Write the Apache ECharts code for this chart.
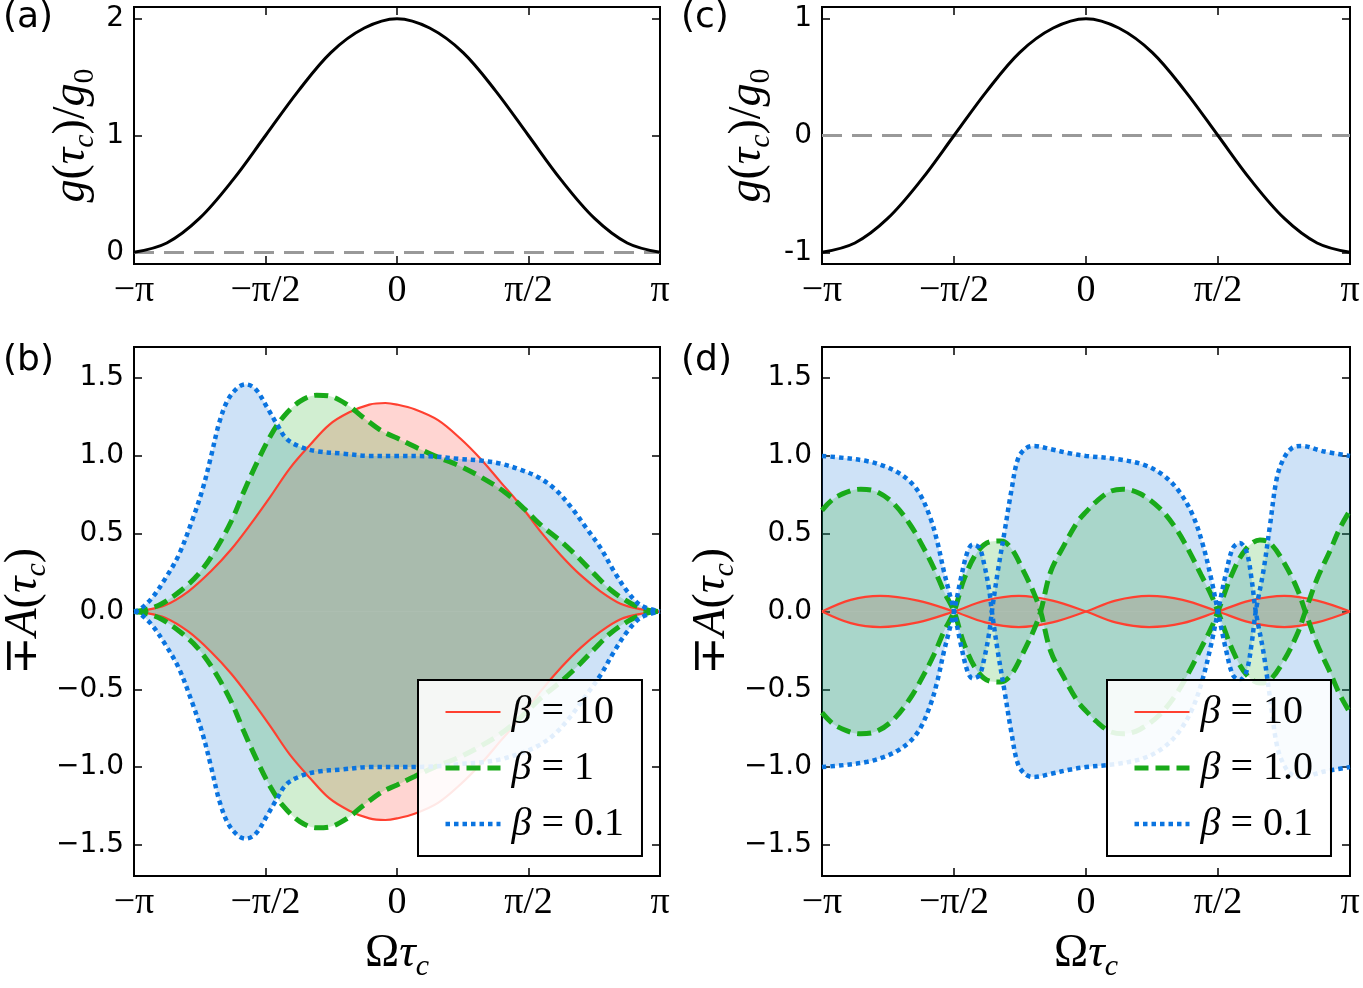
<!DOCTYPE html>
<html>
<head>
<meta charset="utf-8">
<script src="https://cdn.jsdelivr.net/npm/echarts@6/dist/echarts.min.js"></script>
<style>
  html, body { margin: 0; padding: 0; background: #fff; }
  #main { width: 1363px; height: 988px; }
</style>
</head>
<body>
<div id="main"></div>
<script>
// tick positions / labels
var xTicks = [-Math.PI, -Math.PI / 2, 0, Math.PI / 2, Math.PI];
var xTickLabels = ['−π', '−π/2', '0', 'π/2', 'π'];
var yTicksA = [0, 1, 2];
var yTicksC = [-1, 0, 1];
var yTicksBD = [-1.5, -1, -0.5, 0, 0.5, 1, 1.5];

// (a), (c)  g(tau_c)/g0
var gX = [-3.1416, -2.75, -2.36, -1.96, -1.57, -1.18, -0.79, -0.39, 0, 0.39, 0.79, 1.18, 1.57, 1.96, 2.36, 2.75, 3.1416];
var gA = [0, 0.08, 0.29, 0.62, 1.0, 1.38, 1.71, 1.92, 2.0, 1.92, 1.71, 1.38, 1.0, 0.62, 0.29, 0.08, 0];
var gC = [-1, -0.92, -0.71, -0.38, 0, 0.38, 0.71, 0.92, 1, 0.92, 0.71, 0.38, 0, -0.38, -0.71, -0.92, -1];

// (b)  A(tau_c), plotted as +A and -A
var bRedX = [-3.1416, -3.04, -2.77, -2.49, -2.22, -1.98, -1.75, -1.51, -1.28, -1.04, -0.81, -0.57, -0.33, -0.14, 0, 0.21, 0.49, 0.76, 1.0, 1.24, 1.48, 1.72, 1.96, 2.19, 2.43, 2.67, 2.91, 3.1416];
var bRedA = [0, 0.005, 0.04, 0.13, 0.26, 0.40, 0.56, 0.74, 0.92, 1.07, 1.20, 1.28, 1.33, 1.34, 1.33, 1.30, 1.23, 1.11, 0.98, 0.83, 0.68, 0.51, 0.36, 0.235, 0.13, 0.05, 0.015, 0];
var bGreenX = [-3.1416, -3.0, -2.81, -2.57, -2.38, -2.18, -1.98, -1.83, -1.67, -1.51, -1.36, -1.16, -0.96, -0.81, -0.61, -0.41, -0.18, 0, 0.21, 0.45, 0.73, 1.0, 1.28, 1.52, 1.72, 1.96, 2.16, 2.35, 2.55, 2.79, 2.99, 3.1416];
var bGreenA = [0, 0.012, 0.05, 0.14, 0.235, 0.385, 0.58, 0.77, 0.96, 1.13, 1.25, 1.35, 1.39, 1.385, 1.335, 1.25, 1.16, 1.115, 1.06, 1.0, 0.94, 0.865, 0.77, 0.66, 0.555, 0.45, 0.35, 0.245, 0.14, 0.053, 0.01, 0];
var bBlueX = [-3.1416, -3.08, -2.93, -2.77, -2.61, -2.45, -2.32, -2.22, -2.12, -2.02, -1.90, -1.81, -1.69, -1.55, -1.43, -1.32, -1.16, -0.96, -0.65, -0.33, 0, 0.37, 0.76, 1.0, 1.24, 1.48, 1.68, 1.88, 2.08, 2.27, 2.43, 2.59, 2.75, 2.91, 3.1416];
var bBlueA = [0, 0.01, 0.085, 0.21, 0.36, 0.58, 0.79, 1.0, 1.22, 1.36, 1.44, 1.46, 1.43, 1.31, 1.20, 1.11, 1.06, 1.03, 1.015, 1.0, 1.0, 0.998, 0.98, 0.97, 0.95, 0.91, 0.865, 0.79, 0.67, 0.53, 0.41, 0.26, 0.13, 0.04, 0];

// (d)  signed A(tau_c)
var dRedX = [-3.1416, -2.8, -2.45, -2.0, -1.57, -1.2, -0.8, -0.4, 0, 0.35, 0.75, 1.15, 1.57, 1.95, 2.36, 2.75, 3.1416];
var dRedA = [0, 0.075, 0.1, 0.07, 0, -0.07, -0.1, -0.07, 0, 0.07, 0.1, 0.075, 0, -0.07, -0.1, -0.07, 0];
var dGreenX = [-3.1416, -3.0, -2.80, -2.68, -2.49, -2.29, -2.09, -1.93, -1.81, -1.69, -1.57, -1.45, -1.29, -1.13, -1.01, -0.89, -0.74, -0.62, -0.54, -0.42, -0.26, -0.10, 0, 0.12, 0.28, 0.44, 0.64, 0.88, 1.07, 1.23, 1.37, 1.49, 1.57, 1.75, 1.91, 2.07, 2.19, 2.35, 2.51, 2.61, 2.75, 2.90, 3.02, 3.1416];
var dGreenA = [0.65, 0.726, 0.776, 0.786, 0.77, 0.694, 0.556, 0.406, 0.278, 0.128, 0, -0.21, -0.385, -0.45, -0.453, -0.406, -0.256, -0.118, 0, 0.256, 0.427, 0.577, 0.64, 0.705, 0.77, 0.786, 0.758, 0.662, 0.534, 0.385, 0.235, 0.107, 0, -0.256, -0.406, -0.46, -0.44, -0.32, -0.15, 0, 0.21, 0.385, 0.534, 0.65];
var dBlueX = [-3.1416, -2.88, -2.60, -2.41, -2.25, -2.09, -1.97, -1.85, -1.77, -1.69, -1.63, -1.57, -1.49, -1.41, -1.35, -1.27, -1.21, -1.15, -1.12, -1.05, -0.97, -0.89, -0.81, -0.72, -0.62, -0.42, -0.18, 0, 0.36, 0.68, 0.92, 1.11, 1.27, 1.39, 1.49, 1.57, 1.67, 1.75, 1.83, 1.91, 1.97, 2.02, 2.11, 2.19, 2.27, 2.35, 2.45, 2.57, 2.82, 3.1416];
var dBlueA = [1.0, 0.987, 0.966, 0.936, 0.897, 0.833, 0.748, 0.598, 0.449, 0.256, 0.128, 0, -0.21, -0.385, -0.43, -0.41, -0.30, -0.13, 0, 0.256, 0.51, 0.77, 0.98, 1.047, 1.064, 1.043, 1.015, 1.0, 0.98, 0.944, 0.876, 0.77, 0.62, 0.43, 0.21, 0, -0.256, -0.41, -0.44, -0.385, -0.21, 0, 0.256, 0.556, 0.855, 0.98, 1.05, 1.064, 1.03, 1.0];

var red = '#ff4030', green = '#19aa19', blue = '#0a74e0';
var redFill = 'rgba(255,45,30,0.2)', greenFill = 'rgba(25,170,25,0.2)', blueFill = 'rgba(10,110,215,0.2)';

var legendText = {
  b10: '{i|β}{n| = 10}', b1: '{i|β}{n| = 1}', b01: '{i|β}{n| = 0.1}',
  d10: '{i|β}{n| = 10}', d1: '{i|β}{n| = 1.0}', d01: '{i|β}{n| = 0.1}'
};

var serif = '"Liberation Serif", "DejaVu Serif", serif';
var sans = '"DejaVu Sans", sans-serif';
var SMOOTH = 0.35;

function zip(xs, ys, sign) {
  return xs.map(function (x, i) { return [x, sign * ys[i]]; });
}

var grids = [
  {left: 134, top: 7, width: 526, height: 257},
  {left: 822, top: 7, width: 528, height: 257},
  {left: 134, top: 347, width: 526, height: 529},
  {left: 822, top: 347, width: 528, height: 529}
];

var nameRich = {
  i: {fontFamily: serif, fontStyle: 'italic', fontSize: 46, lineHeight: 56},
  u: {fontFamily: serif, fontSize: 46, lineHeight: 56},
  s: {fontFamily: serif, fontStyle: 'italic', fontSize: 30, lineHeight: 30, verticalAlign: 'bottom'},
  su: {fontFamily: serif, fontSize: 30, lineHeight: 30, verticalAlign: 'bottom'}
};
var tickStyle = {inside: true, length: 8, lineStyle: {color: '#000', width: 1.5}};

function xAxisBottom(idx, withName) {
  return {
    type: 'value', gridIndex: idx, min: -Math.PI, max: Math.PI, position: 'bottom',
    axisLine: {show: false, onZero: false}, splitLine: {show: false},
    axisTick: Object.assign({customValues: xTicks}, tickStyle),
    axisLabel: {
      customValues: xTicks, margin: 8, color: '#000', fontFamily: serif, fontSize: 38,
      formatter: function (v) { return xTickLabels[Math.round(v / (Math.PI / 2)) + 2]; }
    },
    name: withName ? '{u|Ω}{i|τ}{s|c}' : '',
    nameLocation: 'middle', nameGap: 50,
    nameTextStyle: {color: '#000', rich: nameRich}
  };
}
function xAxisTop(idx) {
  return {
    type: 'value', gridIndex: idx, min: -Math.PI, max: Math.PI, position: 'top',
    axisLine: {show: false, onZero: false}, splitLine: {show: false}, axisLabel: {show: false},
    axisTick: Object.assign({customValues: xTicks}, tickStyle)
  };
}
function yAxisLeft(idx, min, max, ticks, fmt, name, gap) {
  return {
    type: 'value', gridIndex: idx, min: min, max: max, position: 'left',
    axisLine: {show: false, onZero: false}, splitLine: {show: false},
    axisTick: Object.assign({customValues: ticks}, tickStyle),
    axisLabel: {customValues: ticks, margin: 10, color: '#000', fontFamily: sans, fontSize: 28, formatter: fmt},
    name: name, nameLocation: 'middle', nameRotate: 90, nameGap: gap,
    nameTextStyle: {color: '#000', rich: nameRich}
  };
}
function yAxisRight(idx, min, max, ticks) {
  return {
    type: 'value', gridIndex: idx, min: min, max: max, position: 'right',
    axisLine: {show: false, onZero: false}, splitLine: {show: false}, axisLabel: {show: false},
    axisTick: Object.assign({customValues: ticks}, tickStyle)
  };
}

function fmtPlain(v) { return String(v); }
function fmtDec(v) { return v.toFixed(1).replace('-', '−'); }

var gName = '{i|g}{u|(}{i|τ}{s|c}{u|)/}{i|g}{su|0}';
var aName = '{u|∓}{i|A}{u|(}{i|τ}{s|c}{u|)}';

var series = [];

// (a) and (c)
[[0, gA], [1, gC]].forEach(function (p) {
  series.push({
    type: 'line', xAxisIndex: p[0], yAxisIndex: p[0], data: zip(gX, p[1], 1),
    smooth: SMOOTH, symbol: 'none', silent: true,
    lineStyle: {color: '#000', width: 3}, z: 3,
    markLine: {
      silent: true, symbol: ['none', 'none'], label: {show: false},
      lineStyle: {color: '#999', width: 3, type: [20, 10]},
      data: [{yAxis: 0}], z: 2
    }
  });
});

function addPanel(idx, curves) {
  // fills first (red, blue, green), then lines on top
  curves.fillOrder.forEach(function (c) {
    [1, -1].forEach(function (s) {
      series.push({
        type: 'line', xAxisIndex: idx, yAxisIndex: idx, data: zip(c.x, c.a, s),
        smooth: SMOOTH, symbol: 'none', silent: true,
        lineStyle: {width: 0, opacity: 0},
        areaStyle: {color: c.fill, opacity: 1, origin: 0}, z: 1
      });
    });
  });
  curves.lineOrder.forEach(function (c) {
    [1, -1].forEach(function (s) {
      series.push({
        name: s === 1 ? c.name : c.name + '_m',
        type: 'line', xAxisIndex: idx, yAxisIndex: idx, data: zip(c.x, c.a, s),
        smooth: SMOOTH, symbol: 'none', silent: true,
        itemStyle: {color: c.color},
        lineStyle: {color: c.color, width: c.width, type: c.type, cap: 'butt'}, z: 3
      });
    });
  });
}

var bR = {name: 'b10', x: bRedX, a: bRedA, color: red, fill: redFill, width: 2.2, type: 'solid'};
var bG = {name: 'b1', x: bGreenX, a: bGreenA, color: green, fill: greenFill, width: 5, type: [14, 7]};
var bB = {name: 'b01', x: bBlueX, a: bBlueA, color: blue, fill: blueFill, width: 4.5, type: [4.5, 4]};
var dR = {name: 'd10', x: dRedX, a: dRedA, color: red, fill: redFill, width: 2.2, type: 'solid'};
var dG = {name: 'd1', x: dGreenX, a: dGreenA, color: green, fill: greenFill, width: 5, type: [14, 7]};
var dB = {name: 'd01', x: dBlueX, a: dBlueA, color: blue, fill: blueFill, width: 4.5, type: [4.5, 4]};

addPanel(2, {fillOrder: [bR, bB, bG], lineOrder: [bR, bG, bB]});
addPanel(3, {fillOrder: [dR, dB, dG], lineOrder: [dR, dG, dB]});

function legendFor(curves, left) {
  return {
    data: curves.map(function (c) {
      return {name: c.name, lineStyle: {color: c.color, width: c.width, type: c.type, cap: 'butt'}};
    }),
    left: left, top: 680, orient: 'vertical', selectedMode: false,
    itemWidth: 55, itemHeight: 14, itemGap: 16,
    padding: [12, 18, 12, 25],
    backgroundColor: 'rgba(255,255,255,0.88)', borderColor: '#000', borderWidth: 2,
    z: 10,
    itemStyle: {color: 'transparent', borderWidth: 0, opacity: 0},
    formatter: function (n) { return legendText[n]; },
    textStyle: {
      color: '#000',
      rich: {
        i: {fontFamily: serif, fontStyle: 'italic', fontSize: 40, lineHeight: 40, padding: [0, 0, 0, 6]},
        n: {fontFamily: serif, fontSize: 40, lineHeight: 40}
      }
    }
  };
}

var chart = echarts.init(document.getElementById('main'));
chart.setOption({
  animation: false,
  backgroundColor: '#fff',
  grid: grids.map(function (g) {
    return {left: g.left, top: g.top, width: g.width, height: g.height, show: true,
      borderColor: '#000', borderWidth: 2, backgroundColor: 'transparent'};
  }),
  xAxis: [
    xAxisBottom(0, false), xAxisBottom(1, false), xAxisBottom(2, true), xAxisBottom(3, true),
    xAxisTop(0), xAxisTop(1), xAxisTop(2), xAxisTop(3)
  ],
  yAxis: [
    yAxisLeft(0, -0.1, 2.1, yTicksA, fmtPlain, gName, 34),
    yAxisLeft(1, -1.1, 1.1, yTicksC, fmtPlain, gName, 46),
    yAxisLeft(2, -1.7, 1.7, yTicksBD, fmtDec, aName, 82),
    yAxisLeft(3, -1.7, 1.7, yTicksBD, fmtDec, aName, 78),
    yAxisRight(0, -0.1, 2.1, yTicksA), yAxisRight(1, -1.1, 1.1, yTicksC),
    yAxisRight(2, -1.7, 1.7, yTicksBD), yAxisRight(3, -1.7, 1.7, yTicksBD)
  ],
  legend: [legendFor([bR, bG, bB], 418), legendFor([dR, dG, dB], 1107)],
  graphic: [
    {type: 'text', left: 3, top: 0, style: {text: '(a)', font: '36px "DejaVu Sans"', fill: '#000'}},
    {type: 'text', left: 681, top: 0, style: {text: '(c)', font: '36px "DejaVu Sans"', fill: '#000'}},
    {type: 'text', left: 3, top: 343, style: {text: '(b)', font: '36px "DejaVu Sans"', fill: '#000'}},
    {type: 'text', left: 681, top: 343, style: {text: '(d)', font: '36px "DejaVu Sans"', fill: '#000'}}
  ],
  series: series
});
</script>
</body>
</html>
